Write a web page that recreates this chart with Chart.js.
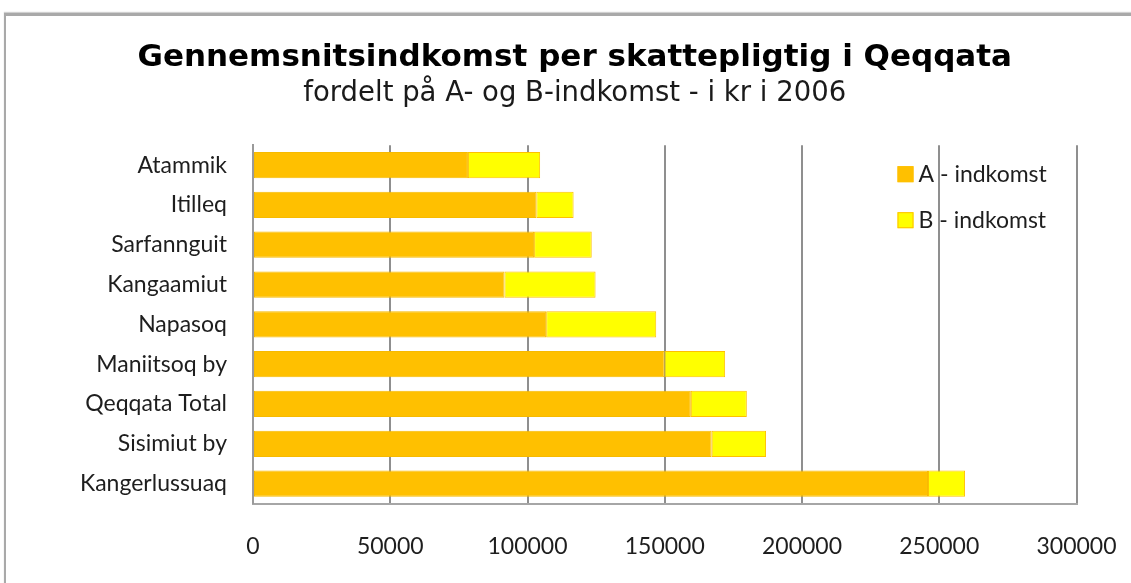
<!DOCTYPE html>
<html>
<head>
<meta charset="utf-8">
<script src="https://cdn.jsdelivr.net/npm/chart.js@4/dist/chart.umd.min.js"></script>
<style>
  html, body { margin: 0; padding: 0; background: #fff; }
  #wrap { position: relative; width: 1131px; height: 583px; overflow: hidden; }
  #frame {
    position: absolute; left: 4px; top: 13px; width: 1200px; height: 700px;
    border-top: 3px solid #a9a9a9; border-left: 2px solid #a9a9a9;
    box-shadow: 0 -1px 1px #d0d0d0;
  }
  #chart { position: absolute; left: 0; top: 0; }
</style>
</head>
<body>
<div id="wrap">
  <div id="frame"></div>
  <canvas id="chart" width="1131" height="583"></canvas>
</div>
<script>
const places = ["Atammik", "Itilleq", "Sarfannguit", "Kangaamiut", "Napasoq",
  "Maniitsoq by", "Qeqqata Total", "Sisimiut by", "Kangerlussuaq"];
const aIncome = [78300, 103200, 102400, 91600, 106800, 149900, 159500, 167100, 245900];
const bIncome = [26300, 13600, 21000, 33200, 40100, 22100, 20400, 19800, 13500];
const xTicks = [0, 50000, 100000, 150000, 200000, 250000, 300000];
const seriesNames = ["A - indkomst", "B - indkomst"];
const seriesColors = ["#FFC000", "#FFFF00"];

// legend drawn inside the plot, top right, like the Excel original
const innerLegend = {
  id: "innerLegend",
  afterDraw(chart) {
    const ctx = chart.ctx;
    const area = chart.chartArea;
    ctx.save();
    ctx.font = "23px Lato";
    ctx.textBaseline = "middle";
    ctx.textAlign = "left";
    chart.data.datasets.forEach((ds, i) => {
      const x = area.right - 179;
      const y = area.top + 29 + i * 46;
      ctx.fillStyle = ds.backgroundColor;
      ctx.fillRect(x, y - 8, 16, 16);
      ctx.strokeStyle = "#FFC000";
      ctx.lineWidth = 1;
      ctx.strokeRect(x + 0.5, y - 7.5, 15, 15);
      ctx.fillStyle = "#1e1e1e";
      ctx.fillText(ds.label, x + 21, y);
    });
    ctx.restore();
  }
};

new Chart(document.getElementById("chart"), {
  type: "bar",
  data: {
    labels: places,
    datasets: [
      {
        label: seriesNames[0],
        data: aIncome,
        backgroundColor: seriesColors[0],
        borderColor: "#F7BA00",
        borderWidth: 1,
        borderSkipped: false
      },
      {
        label: seriesNames[1],
        data: bIncome,
        backgroundColor: seriesColors[1],
        borderColor: "#FFC000",
        borderWidth: 1,
        borderSkipped: false
      }
    ]
  },
  options: {
    indexAxis: "y",
    responsive: false,
    animation: false,
    devicePixelRatio: 1,
    // left/right padding also centres the title over x = 575
    layout: { padding: { top: 0, left: 73, right: 54.5, bottom: 0 } },
    datasets: {
      bar: { barPercentage: 0.66, categoryPercentage: 1 }
    },
    plugins: {
      legend: { display: false },
      tooltip: { enabled: false },
      title: {
        display: true,
        text: "Gennemsnitsindkomst per skattepligtig i Qeqqata",
        color: "#000",
        font: { family: "DejaVu Sans", size: 31, weight: "bold", lineHeight: 1.2 },
        padding: { top: 39, bottom: 0 }
      },
      subtitle: {
        display: true,
        text: "fordelt på A- og B-indkomst - i kr i 2006",
        color: "#1a1a1a",
        font: { family: "DejaVu Sans", size: 27.5, weight: "normal", lineHeight: 1.2 },
        padding: { top: 1, bottom: 35 }
      }
    },
    scales: {
      x: {
        stacked: true,
        min: xTicks[0],
        max: xTicks[xTicks.length - 1],
        afterBuildTicks(scale) {
          scale.ticks = xTicks.map(v => ({ value: v }));
        },
        afterFit(scale) { scale.height = 79.5; },
        grid: { color: "#8f8f8f", lineWidth: 2, drawTicks: true, tickLength: 25, tickColor: "transparent" },
        border: { color: "#a6a6a6", width: 2 },
        ticks: {
          callback: v => String(v),
          color: "#1e1e1e",
          padding: 4,
          font: { family: "Lato", size: 23 }
        }
      },
      y: {
        stacked: true,
        afterFit(scale) { scale.width = 253 - 73; },
        grid: { display: false, drawTicks: false },
        border: { color: "#9a9a9a", width: 2 },
        ticks: {
          color: "#1e1e1e",
          padding: 26,
          font: { family: "Lato", size: 23 }
        }
      }
    }
  },
  plugins: [innerLegend]
});
</script>
</body>
</html>
